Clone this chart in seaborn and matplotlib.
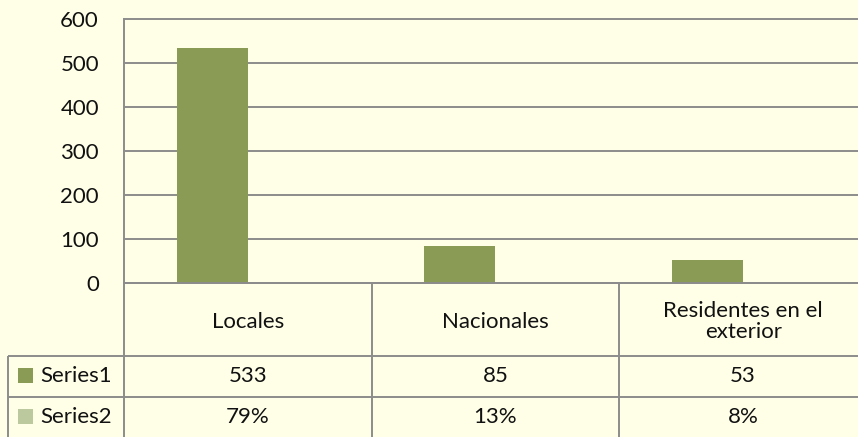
import matplotlib
matplotlib.use("Agg")
import matplotlib.pyplot as plt
from matplotlib.patches import Rectangle
import pandas as pd
import seaborn as sns

# data
CATEGORIES = ["Locales", "Nacionales", "Residentes en el\nexterior"]
SERIES_NAMES = ["Series1", "Series2"]
SERIES1_VALUES = [533, 85, 53]
SERIES2_VALUES = [0.79, 0.13, 0.08]
SERIES1_LABELS = ["533", "85", "53"]
SERIES2_LABELS = ["79%", "13%", "8%"]
Y_TICKS = [0, 100, 200, 300, 400, 500, 600]

BG = "#FFFFE8"
GRID = "#8C8C8C"
TEXT = "#111111"
PALETTE = {"Series1": "#8A9B55", "Series2": "#BCC99E"}
FONT_SIZE = 16

# layout in pixels (from top-left)
W, H = 858, 437
PLOT_L, PLOT_R, PLOT_T, PLOT_B = 124, 867, 19, 283
LEG_L = 8
ROW_EDGES = [283, 356, 397, 445]

sns.set_theme(style="white")
plt.rcParams["font.family"] = ["Lato", "DejaVu Sans"]

fig = plt.figure(figsize=(W / 100, H / 100), dpi=100, facecolor=BG)
ax = fig.add_axes([PLOT_L / W, 1 - PLOT_B / H, (PLOT_R - PLOT_L) / W, (PLOT_B - PLOT_T) / H])
ax.set_facecolor(BG)

df = pd.DataFrame({
    "category": CATEGORIES * 2,
    "series": [SERIES_NAMES[0]] * len(CATEGORIES) + [SERIES_NAMES[1]] * len(CATEGORIES),
    "value": SERIES1_VALUES + SERIES2_VALUES,
})
sns.barplot(
    data=df, x="category", y="value", hue="series",
    order=CATEGORIES, hue_order=SERIES_NAMES, palette=PALETTE,
    width=0.575, saturation=1, errorbar=None, linewidth=0,
    legend=False, ax=ax,
)

ax.set_xlim(-0.5, len(CATEGORIES) - 0.5)
ax.set_ylim(0, 600)
ax.set_yticks(Y_TICKS)
ax.set_xticks([])
ax.set_xlabel("")
ax.set_ylabel("")
ax.yaxis.grid(True, color=GRID, linewidth=1.4)
for gl in ax.get_ygridlines():
    gl.set_clip_on(False)
ax.set_axisbelow(True)
ax.tick_params(axis="y", length=0, pad=18, labelsize=FONT_SIZE, labelcolor=TEXT)
for side in ["top", "right"]:
    ax.spines[side].set_visible(False)
for side in ["left", "bottom"]:
    ax.spines[side].set_color(GRID)
    ax.spines[side].set_linewidth(1.4)

# data table below the plot, drawn in pixel coordinates
tab = fig.add_axes([0, 0, 1, 1])
tab.set_xlim(0, W)
tab.set_ylim(H, 0)
tab.axis("off")
tab.patch.set_alpha(0)

unit = (PLOT_R - PLOT_L) / len(CATEGORIES)
col_edges = [PLOT_L + i * unit for i in range(len(CATEGORIES) + 1)]
centers = [PLOT_L + (i + 0.5) * unit for i in range(len(CATEGORIES))]
line_kw = dict(color=GRID, linewidth=1.4, solid_capstyle="butt")

for y in ROW_EDGES[1:3]:
    tab.plot([LEG_L, PLOT_R], [y, y], **line_kw)
for x in col_edges:
    tab.plot([x, x], [ROW_EDGES[0], ROW_EDGES[-1]], **line_kw)
tab.plot([LEG_L, LEG_L], [ROW_EDGES[1], ROW_EDGES[-1]], **line_kw)

cat_y = (ROW_EDGES[0] + ROW_EDGES[1]) / 2 + 2
for cx, label in zip(centers, CATEGORIES):
    tab.text(cx, cat_y, label, ha="center", va="center", fontsize=FONT_SIZE,
             color=TEXT, linespacing=1.05, multialignment="center")

row_centers = [376, 417]
for name, labels, cy in zip(SERIES_NAMES, [SERIES1_LABELS, SERIES2_LABELS], row_centers):
    tab.add_patch(Rectangle((18, cy - 8), 15, 15, facecolor=PALETTE[name], edgecolor="none"))
    tab.text(40, cy, name, ha="left", va="center", fontsize=FONT_SIZE, color=TEXT)
    for cx, label in zip(centers, labels):
        tab.text(cx, cy, label, ha="center", va="center", fontsize=FONT_SIZE, color=TEXT)

fig.savefig("out.png", dpi=100, facecolor=BG)
